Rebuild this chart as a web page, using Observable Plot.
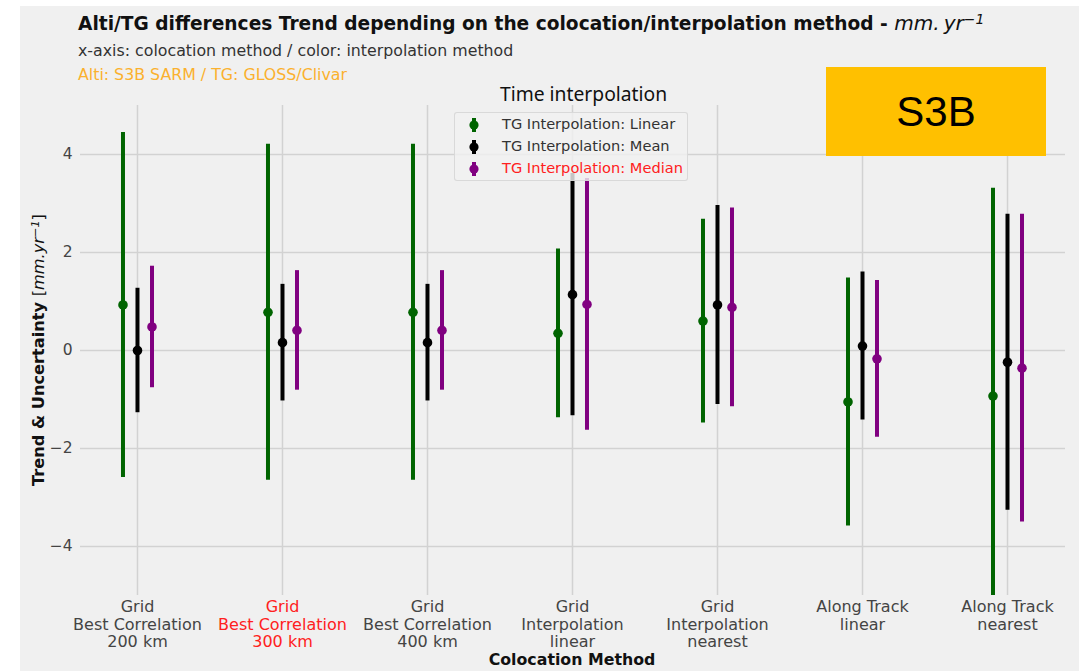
<!DOCTYPE html>
<html>
<head>
<meta charset="utf-8">
<script src="https://cdn.jsdelivr.net/npm/d3@7"></script>
<script src="https://cdn.jsdelivr.net/npm/@observablehq/plot@0.6"></script>
<style>
  html, body { margin: 0; padding: 0; background: #ffffff; }
  #wrap { position: relative; width: 1079px; height: 671px; background: #ffffff; overflow: hidden; font-family: "DejaVu Sans", sans-serif; }
  #chart { position: absolute; left: 20px; top: 6px; width: 1059px; height: 665px; background: #f0f0f0; }
  .abs { position: absolute; white-space: nowrap; line-height: 1; }
  #title { left: 78px; top: 12.5px; font-size: 18.6px; font-weight: bold; color: #111; }
  #title .m { font-weight: normal; font-style: italic; font-size: 1.08em; }
  #sub1 { left: 78px; top: 42.5px; font-size: 15.8px; color: #333; }
  #sub2 { left: 78px; top: 66.5px; font-size: 15.8px; color: #FBB12E; }
  #legtitle { left: 500px; top: 84px; font-family: "Noto Sans", sans-serif; font-size: 19.3px; color: #111; }
  #legend { position: absolute; left: 454px; top: 112px; width: 234px; height: 69px; background: rgba(240,240,240,0.82); border: 1px solid rgba(210,210,210,0.8); border-radius: 3px; box-sizing: border-box; }
  .li { position: absolute; left: 0; height: 20px; width: 234px; font-size: 14.6px; color: #333; }
  .li svg { position: absolute; left: 12px; top: 0; }
  .li span { position: absolute; left: 47px; top: 2px; line-height: 1; }
  #s3b { position: absolute; left: 826px; top: 67px; width: 220px; height: 89px; background: #FFC000; display: flex; align-items: center; justify-content: center; font-family: "Liberation Sans", Arial, sans-serif; font-size: 42px; color: #000; }
  #ylabel { left: 39px; top: 350px; transform: translate(-50%, -50%) rotate(-90deg); font-size: 16.2px; font-weight: bold; color: #111; }
  #ylabel .m { font-weight: normal; font-style: italic; }
  #ylabel .b { font-weight: normal; }
  #xlabel { left: 572px; top: 652px; transform: translateX(-50%); font-size: 15.8px; font-weight: bold; color: #111; }
  sup { font-size: 0.7em; vertical-align: 0.45em; line-height: 0; }
</style>
</head>
<body>
<div id="wrap">
  <div id="chart"></div>
  <div class="abs" id="title">Alti/TG differences Trend depending on the colocation/interpolation method - <span class="m">mm.&#8201;yr<sup>−1</sup></span></div>
  <div class="abs" id="sub1">x-axis: colocation method / color: interpolation method</div>
  <div class="abs" id="sub2">Alti: S3B SARM / TG: GLOSS/Clivar</div>
  <div class="abs" id="ylabel">Trend &amp; Uncertainty <span class="b">[</span><span class="m">mm.yr<sup>−1</sup></span><span class="b">]</span></div>
  <div class="abs" id="xlabel">Colocation Method</div>
  <div class="abs" id="legtitle">Time interpolation</div>
  <div id="legend"></div>
  <div id="s3b">S3B</div>
</div>
<script>
// ---- data ----
const categories = [
  "Grid\nBest Correlation\n200 km",
  "Grid\nBest Correlation\n300 km",
  "Grid\nBest Correlation\n400 km",
  "Grid\nInterpolation\nlinear",
  "Grid\nInterpolation\nnearest",
  "Along Track\nlinear",
  "Along Track\nnearest"
];
const seriesNames = ["TG Interpolation: Linear", "TG Interpolation: Mean", "TG Interpolation: Median"];
const trendLinear = [0.93, 0.78, 0.78, 0.35, 0.60, -1.05, -0.93];
const errLinear   = [3.52, 3.43, 3.43, 1.72, 2.08, 2.53, 4.24];
const trendMean   = [0.00, 0.16, 0.16, 1.14, 0.93, 0.09, -0.24];
const errMean     = [1.27, 1.19, 1.19, 2.47, 2.03, 1.51, 3.02];
const trendMedian = [0.48, 0.41, 0.41, 0.94, 0.88, -0.17, -0.36];
const errMedian   = [1.24, 1.22, 1.22, 2.57, 2.03, 1.60, 3.14];
const yTicks = [-4, -2, 0, 2, 4];

// ---- styling ----
const seriesColors = ["#006400", "#000000", "#800080"];
const seriesDodge = [-0.1, 0, 0.1];
const legendTextColors = ["#333333", "#333333", "#ff2020"];
const trends = [trendLinear, trendMean, trendMedian];
const errs = [errLinear, errMean, errMedian];

const marks = [
  Plot.gridY(yTicks, {stroke: "#d2d2d2", strokeOpacity: 1, strokeWidth: 1.5}),
  Plot.gridX(d3.range(categories.length), {stroke: "#d2d2d2", strokeOpacity: 1, strokeWidth: 1.5})
];
seriesNames.forEach((name, s) => {
  const rows = categories.map((c, i) => ({cat: c, i, trend: trends[s][i], err: errs[s][i]}));
  marks.push(Plot.ruleX(rows, {
    x: d => d.i + seriesDodge[s],
    y1: d => d.trend - d.err,
    y2: d => d.trend + d.err,
    stroke: seriesColors[s], strokeWidth: 4, clip: true
  }));
  marks.push(Plot.dot(rows, {
    x: d => d.i + seriesDodge[s],
    y: "trend",
    r: 4.8, fill: seriesColors[s], stroke: "none", clip: true
  }));
});
marks.push(Plot.axisY(yTicks, {
  tickSize: 0, tickPadding: 8, fontSize: 15.5, label: null,
  tickFormat: d => d < 0 ? "\u2212" + Math.abs(d) : String(d)
}));
marks.push(Plot.axisX(d3.range(categories.length), {
  tickSize: 0, tickPadding: 4, fontSize: 16, lineHeight: 1.1, label: null,
  tickFormat: i => categories[i]
}));

const chart = Plot.plot({
  width: 1059, height: 665,
  marginLeft: 60, marginRight: 14, marginTop: 99, marginBottom: 76,
  style: {background: "#f0f0f0", fontFamily: "DejaVu Sans", fontSize: "16px", color: "#444"},
  x: {type: "linear", domain: [-0.393, 6.4]},
  y: {domain: [-5, 5]},
  marks
});
document.getElementById("chart").appendChild(chart);

// highlight the second category label in red as in the reference
d3.select(chart).selectAll('g[aria-label="x-axis tick label"] text')
  .filter((d, i) => i === 1).attr("fill", "#ff2020");

// legend (HTML) built from the series
const leg = document.getElementById("legend");
seriesNames.forEach((name, s) => {
  const row = document.createElement("div");
  row.className = "li";
  row.style.top = (2 + s * 22) + "px";
  row.innerHTML = `<svg width="14" height="20"><line x1="7" x2="7" y1="3" y2="17" stroke="${seriesColors[s]}" stroke-width="4"/><circle cx="7" cy="10" r="4.6" fill="${seriesColors[s]}"/></svg><span style="color:${legendTextColors[s]}">${name}</span>`;
  leg.appendChild(row);
});
</script>
</body>
</html>
